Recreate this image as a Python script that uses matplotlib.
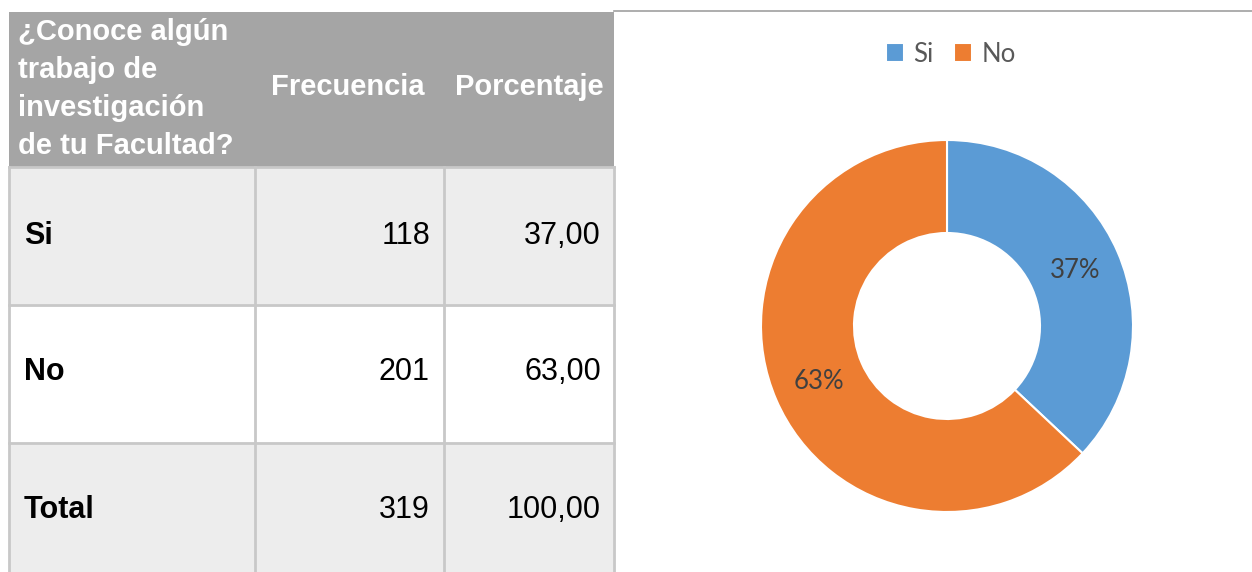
import matplotlib
matplotlib.use("Agg")
import matplotlib.pyplot as plt
from matplotlib.patches import Rectangle

# data
header = ["¿Conoce algún\ntrabajo de\ninvestigación\nde tu Facultad?", "Frecuencia", "Porcentaje"]
row_labels = ["Si", "No", "Total"]
frecuencia = [118, 201, 319]
porcentaje = ["37,00", "63,00", "100,00"]
pie_labels = ["Si", "No"]
pie_values = [37, 63]
pie_colors = ["#5B9BD5", "#ED7D31"]

W, H = 1252, 572
fig = plt.figure(figsize=(W / 100, H / 100), dpi=100)

# ---- table, drawn in pixel coords ----
ax = fig.add_axes([0, 0, 1, 1])
ax.set_xlim(0, W)
ax.set_ylim(H, 0)
ax.axis("off")

col_x = [9, 255, 444, 614]
row_y = [12, 167, 305, 443, 585]
row_bg = ["#EDEDED", "#FFFFFF", "#EDEDED"]
row_text_y = [236, 372, 510]
grid = "#C8C8C8"
tfont = "Liberation Sans"

ax.add_patch(Rectangle((col_x[0], row_y[0]), col_x[-1] - col_x[0], row_y[1] - row_y[0],
                       facecolor="#A5A5A5", edgecolor="none"))
for i in range(len(row_labels)):
    y0, y1 = row_y[i + 1], row_y[i + 2]
    ax.add_patch(Rectangle((col_x[0], y0), col_x[-1] - col_x[0], y1 - y0,
                           facecolor=row_bg[i], edgecolor="none"))
    ax.plot([col_x[0], col_x[-1]], [y0, y0], color=grid, lw=2)
for x in col_x:
    ax.plot([x, x], [row_y[1], row_y[-1]], color=grid, lw=2)

# top line over the chart area
ax.plot([col_x[-1], W], [11, 11], color="#A0A0A0", lw=1.2)

hstyle = dict(color="white", fontweight="bold", fontsize=21, family=tfont)
ax.text(18, 89, header[0], ha="left", va="center", linespacing=1.46, **hstyle)
ax.text((col_x[1] + col_x[2]) / 2 - 2, 87, header[1], ha="center", va="center", **hstyle)
ax.text((col_x[2] + col_x[3]) / 2, 87, header[2], ha="center", va="center", **hstyle)

for i, lab in enumerate(row_labels):
    yc = row_text_y[i]
    ax.text(24, yc, lab, ha="left", va="center", fontsize=22, fontweight="bold",
            family=tfont, color="black")
    ax.text(430, yc, str(frecuencia[i]), ha="right", va="center", fontsize=22,
            family=tfont, color="black")
    ax.text(601, yc, porcentaje[i], ha="right", va="center", fontsize=22,
            family=tfont, color="black")

# ---- donut ----
cx, cy, r = 947, 326, 186
pax = fig.add_axes([(cx - r) / W, (H - cy - r) / H, 2 * r / W, 2 * r / H])
wedges, texts, autotexts = pax.pie(
    pie_values, colors=pie_colors, startangle=90, counterclock=False,
    autopct="%1.0f%%", pctdistance=0.75,
    wedgeprops=dict(width=0.5, edgecolor="white", linewidth=1.5),
    textprops=dict(fontsize=18.5, color="#404040", family="Lato"))
pax.set_xlim(-1, 1)
pax.set_ylim(-1, 1)
pax.set_aspect("equal")

leg = fig.legend(wedges, pie_labels, loc="center", bbox_to_anchor=(951 / W, 1 - 54 / H),
                 ncol=2, frameon=False, handlelength=0.7, handleheight=0.75,
                 handletextpad=0.35, columnspacing=0.8,
                 prop=dict(family="Lato", size=18.5))
for t in leg.get_texts():
    t.set_color("#595959")

fig.savefig("out.png", dpi=100)
